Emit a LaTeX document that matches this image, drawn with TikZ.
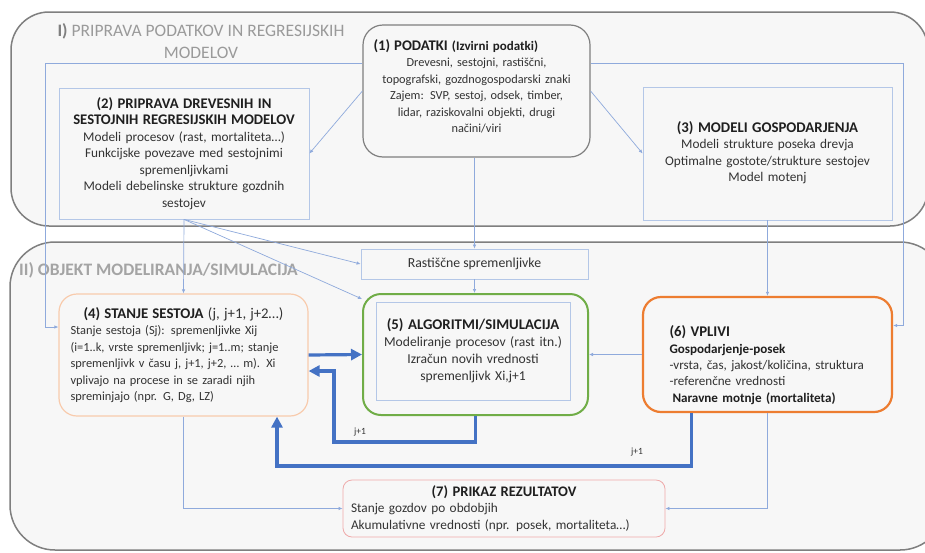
\documentclass[tikz,border=0pt]{standalone}
\usepackage{fontspec}
\setmainfont{Carlito}
\usetikzlibrary{arrows.meta,positioning,calc}
\usepackage{xcolor}
\definecolor{mdframe}{HTML}{7F7F7F}
\definecolor{mdbg}{HTML}{F7F7F7}
\definecolor{mdtitle}{HTML}{9A9A9A}
\definecolor{mdtext}{HTML}{333333}
\definecolor{mdhead}{HTML}{1F1F1F}
\definecolor{mdline}{HTML}{8FAADC}
\definecolor{mdbox}{HTML}{B4C7E7}
\definecolor{mdthick}{HTML}{4472C4}
\definecolor{mdgreen}{HTML}{70AD47}
\definecolor{mdorange}{HTML}{ED7D31}
\definecolor{mdpeach}{HTML}{F8CBAD}
\definecolor{mdred}{HTML}{EFA9A9}
\tikzset{
    frame/.style={
        draw=mdframe,line width=1.5pt,fill=mdbg,rounded corners=#1
    },
    sectitle/.style={
        text=mdtitle,font=\fontsize{17.5}{22}\selectfont,inner sep=0pt
    },
    box/.style={
        draw=#1,line width=0.8pt,fill=mdbg,text=mdtext,
        font=\fontsize{13.3}{16.5}\selectfont,inner sep=0pt
    },
    box/.default=mdbox,
    roundbox/.style={
        box=#1,rounded corners=18pt,line width=2pt
    },
    thinarrow/.style={
        -{Latex[length=4pt,width=3.5pt]},line width=0.7pt,draw=mdline
    },
    thickarrow/.style={
        -{Triangle[length=11pt,width=11pt]},line width=3.2pt,draw=mdthick
    },
    lbl/.style={
        text=mdtext,font=\fontsize{9.5}{11}\selectfont,inner sep=0pt
    }
}
\newcommand{\hd}[1]{{\color{mdhead}\bfseries #1}}

\begin{document}
\begin{tikzpicture}[x=1pt,y=-1pt]
\clip (0,0) rectangle (925,552);
\fill[white] (0,0) rectangle (925,552);

% okvirja I in II
\draw[frame=38pt] (11,12) rectangle (928,226);
\draw[frame=45pt] (10,242) rectangle (945,550);

\node[sectitle,align=center] (tI) at (201,41)
{\textcolor{mdframe}{\textbf{I)}} PRIPRAVA PODATKOV IN REGRESIJSKIH\\MODELOV};
\node[sectitle,text=mdtitle!90!white,font=\fontsize{17.5}{22}\selectfont\bfseries,anchor=west] (tII) at (19,270)
{II) OBJEKT MODELIRANJA/SIMULACIJA};

% (1)
\node[
box=mdframe,line width=1.2pt,rounded corners=20pt,font=\fontsize{12.3}{16.4}\selectfont,
minimum width=227pt,minimum height=132pt,text width=212pt,align=center
](pd) at (476.5,91)
{\makebox[\linewidth][l]{\hspace*{3pt}\hd{\fontsize{14.7}{16}\selectfont(1) PODATKI}\ \hd{\fontsize{13}{16}\selectfont(Izvirni podatki)}}\\
Drevesni, sestojni, rastiščni,\\
topografski, gozdnogospodarski znaki\\
Zajem: SVP, sestoj, odsek, timber,\\
lidar, raziskovalni objekti, drugi\\
načini/viri\rule[-10pt]{0pt}{10pt}};

% (2)
\node[
box,minimum width=250pt,minimum height=131pt,text width=244pt,align=center
](pr) at (184,153.5)
{\hd{\fontsize{14.7}{17.5}\selectfont(2) PRIPRAVA DREVESNIH IN\\
SESTOJNIH REGRESIJSKIH MODELOV}\\
Modeli procesov (rast, mortaliteta…)\\
Funkcijske povezave med sestojnimi\\
spremenljivkami\\
Modeli debelinske strukture gozdnih\\
sestojev};

% (3)
\node[
box,minimum width=249pt,minimum height=133pt,text width=240pt,align=center
](mg) at (767.5,153.5)
{\hd{\fontsize{14.8}{17.5}\selectfont(3) MODELI GOSPODARJENJA}\\
Modeli strukture poseka drevja\\
Optimalne gostote/strukture sestojev\\
Model motenj\rule[-4pt]{0pt}{4pt}};

\node[box,font=\fontsize{13.8}{16.5}\selectfont,minimum width=227pt,minimum height=30pt] (ra) at (474.5,264)
{Rastiščne spremenljivke};

% (5)
\node[roundbox=mdgreen,minimum width=225pt,minimum height=121pt] (ok) at (475.5,354.5) {};
\node[
box,font=\fontsize{13.6}{17}\selectfont,minimum width=194pt,minimum height=98pt,text width=190pt,align=center
](al) at (473,351)
{\hd{\fontsize{14.8}{18}\selectfont(5) ALGORITMI/SIMULACIJA}\\
Modeliranje procesov (rast itn.)\\
Izračun novih vrednosti\\
spremenljivk Xi,j+1};

% (4)
\node[
roundbox=mdpeach,line width=1.2pt,font=\fontsize{12.4}{16.4}\selectfont,
minimum width=249pt,minimum height=122pt,text width=226pt,align=left
](st) at (183.5,355)
{\makebox[\linewidth][c]{\fontsize{14.8}{17}\selectfont\hd{(4) STANJE SESTOJA} (j, j+1, j+2…)}\\
Stanje sestoja (Sj): spremenljivke Xij\\
(i=1..k, vrste spremenljivk; j=1..m; stanje\\
spremenljivk v času j, j+1, j+2, … m). Xi\\
vplivajo na procese in se zaradi njih\\
spreminjajo (npr. G, Dg, LZ)};

% (6)
\node[
roundbox=mdorange,line width=2.2pt,font=\fontsize{13.1}{16.4}\selectfont,
minimum width=249pt,minimum height=115pt,text width=196pt,align=left
](vp) at (767.5,354.5)
{\rule{0pt}{32pt}\hd{\fontsize{14.8}{17}\selectfont(6) VPLIVI}\\
\hd{Gospodarjenje-posek}\\
-vrsta, čas, jakost/količina, struktura\\
-referenčne vrednosti\\
\hspace*{3pt}\hd{Naravne motnje (mortaliteta)}};

% (7)
\node[
box=mdred,rounded corners=9pt,minimum width=322pt,minimum height=57pt,
text width=306pt,align=left
](rz) at (504,508.5)
{\makebox[\linewidth][c]{\hd{\fontsize{14.6}{16}\selectfont(7) PRIKAZ REZULTATOV}}\\
Stanje gozdov po obdobjih\\
Akumulativne vrednosti (npr. posek, mortaliteta…)};

\node[lbl] (j1) at (360,432) {j+1};
\node[lbl] (j2) at (637,452) {j+1};

\coordinate (lft) at (45,63);
\coordinate (rgt) at (903,63);
\coordinate (lp1) at (334,442);
\coordinate (lp2) at (277,466);

% tanke povezave
\draw[thinarrow] ([yshift=28pt]pd.west) -- (lft) |- ([yshift=28pt]st.west);
\draw[thinarrow] ([yshift=28pt]pd.east) -- (rgt) |- ([yshift=29pt]vp.east);
\draw[thinarrow] (pd.west) -- (pr.east);
\draw[thinarrow] (pd.east) -- (mg.west);
\draw[thinarrow] (pd.south -| ra.north) -- (ra.north);
\draw[thinarrow] (ra.south) -- (ok.north -| ra.south);
\draw[thinarrow] (pr.south) -- (st.north);
\draw[thinarrow] (pr.south) -- (ra.west);
\draw[thinarrow] (pr.south) -- ([yshift=-6pt]ok.north west);
\draw[thinarrow] (mg.south) -- (vp.north);
\draw[thinarrow] (vp.west) -- (ok.east);
\draw[thinarrow] (st.south) |- (rz.west);
\draw[thinarrow] (vp.south) |- (rz.east);

% debele povezave
\draw[thickarrow] (st.east) -- (ok.west);
\draw[thickarrow] (ok.south) |- (lp1) |- ([yshift=-16pt]st.east);
\draw[thickarrow] ([xshift=-76pt]vp.south) |- (lp2) -- (st.south -| lp2);

\end{tikzpicture}
\end{document}
